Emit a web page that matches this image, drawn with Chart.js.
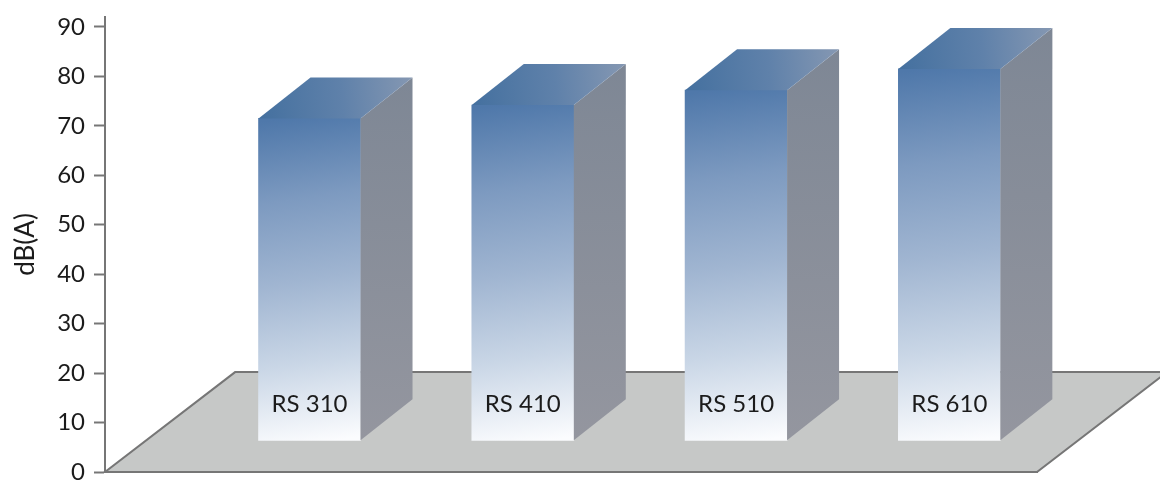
<!DOCTYPE html>
<html>
<head>
<meta charset="utf-8">
<style>html,body{margin:0;padding:0;background:#fff}canvas{display:block}</style>
<script src="https://cdn.jsdelivr.net/npm/chart.js@4"></script>
</head>
<body>
<canvas id="c" width="1160" height="483"></canvas>
<script>
const categories = ['RS 310', 'RS 410', 'RS 510', 'RS 610'];
const positions = [1, 2, 3, 4];
const levels = [71.5, 74.2, 77.2, 81.5];
const frontBase = [6.4, 6.4, 6.4, 6.4];
const yTicksStep = 10;
const axisTitle = 'dB(A)';

const FONT = 'Lato, sans-serif';
const TEXT = '#1b1b1b';
const AXIS = '#767676';
const DEPTH_X = 52, DEPTH_Y = 41;
const FLOOR_BACK_VALUE = 20.2, FLOOR_SHIFT = 0.61;
const LABEL_VALUE = 13.75;

function barGradient(ctx) {
  const chart = ctx.chart, sx = chart.scales.x, sy = chart.scales.y;
  if (!sx || !sy || !ctx.raw) return '#5d82b0';
  const top = sy.getPixelForValue(ctx.raw.y[1]), bot = sy.getPixelForValue(ctx.raw.y[0]);
  const cx = sx.getPixelForValue(ctx.raw.x);
  if (![top, bot, cx].every(Number.isFinite)) return '#5d82b0';
  const g = chart.ctx.createLinearGradient(cx - 25, top, cx + 25, bot);
  g.addColorStop(0, '#4f78aa');
  g.addColorStop(0.25, '#7d9ac0');
  g.addColorStop(0.5, '#a0b5d1');
  g.addColorStop(0.75, '#c9d6e6');
  g.addColorStop(1, '#fbfcfe');
  return g;
}

const box3d = {
  id: 'box3d',
  beforeDatasetsDraw(chart) {
    const c = chart.ctx, sx = chart.scales.x, sy = chart.scales.y;
    const y0 = sy.getPixelForValue(0), yb = sy.getPixelForValue(FLOOR_BACK_VALUE);
    const xl = sx.getPixelForValue(sx.min), xr = sx.getPixelForValue(sx.max);
    const shift = sx.getPixelForValue(sx.min + FLOOR_SHIFT) - xl;
    c.save();
    c.beginPath();
    c.moveTo(xl, y0); c.lineTo(xr, y0); c.lineTo(xr + shift, yb); c.lineTo(xl + shift, yb); c.closePath();
    c.fillStyle = '#c6c8c7'; c.fill();
    c.strokeStyle = AXIS; c.lineWidth = 2; c.lineJoin = 'miter'; c.stroke();
    c.restore();
  },
  afterDatasetsDraw(chart) {
    const c = chart.ctx, sx = chart.scales.x, sy = chart.scales.y;
    chart.getDatasetMeta(0).data.forEach((bar, i) => {
      const p = bar.getProps(['x', 'y', 'base', 'width'], true);
      const l = p.x - p.width / 2, r = p.x + p.width / 2, t = p.y, b = p.base;
      c.save();
      let g = c.createLinearGradient(0, t - DEPTH_Y, 0, b);
      g.addColorStop(0, '#7e8795'); g.addColorStop(1, '#94969f');
      c.beginPath();
      c.moveTo(r, t); c.lineTo(r + DEPTH_X, t - DEPTH_Y); c.lineTo(r + DEPTH_X, b - DEPTH_Y); c.lineTo(r, b); c.closePath();
      c.fillStyle = g; c.fill();
      g = c.createLinearGradient(l, t, r + DEPTH_X, t - 12);
      g.addColorStop(0, '#44709f'); g.addColorStop(0.55, '#5f81aa'); g.addColorStop(1, '#8497b2');
      c.beginPath();
      c.moveTo(l, t); c.lineTo(l + DEPTH_X, t - DEPTH_Y); c.lineTo(r + DEPTH_X, t - DEPTH_Y); c.lineTo(r, t); c.closePath();
      c.fillStyle = g; c.fill();
      c.fillStyle = TEXT;
      c.font = '24px ' + FONT;
      c.textAlign = 'center';
      c.textBaseline = 'middle';
      c.fillText(categories[i], sx.getPixelForValue(positions[i]), sy.getPixelForValue(LABEL_VALUE));
      c.restore();
    });
  }
};

new Chart(document.getElementById('c'), {
  type: 'bar',
  data: {
    datasets: [{
      data: positions.map((x, i) => ({ x, y: [frontBase[i], levels[i]] })),
      backgroundColor: barGradient,
      borderWidth: 0,
      barThickness: 102
    }]
  },
  plugins: [box3d],
  options: {
    responsive: false,
    animation: false,
    layout: { padding: { top: 17, right: 123, left: 0, bottom: 0 } },
    plugins: { legend: { display: false }, tooltip: { enabled: false } },
    scales: {
      x: {
        type: 'linear', offset: false, min: 0.041, max: 4.411,
        afterFit(s) { s.height = 11; },
        border: { display: true, color: AXIS, width: 2 },
        grid: { display: false, offset: false },
        ticks: { display: false }
      },
      y: {
        min: 0, max: 92,
        afterFit(s) { s.width = 105; s.paddingBottom = 0; s.paddingTop = 0; },
        border: { display: true, color: AXIS, width: 2 },
        grid: { drawOnChartArea: false, drawTicks: true, tickLength: 11, tickColor: AXIS, tickWidth: 2 },
        ticks: {
          stepSize: yTicksStep, includeBounds: false, padding: 9, color: TEXT,
          font: { family: FONT, size: 24 }
        },
        title: { display: true, text: axisTitle, color: TEXT, font: { family: FONT, size: 26 }, padding: { top: 10, bottom: 0 } }
      }
    }
  }
});
</script>
</body>
</html>
